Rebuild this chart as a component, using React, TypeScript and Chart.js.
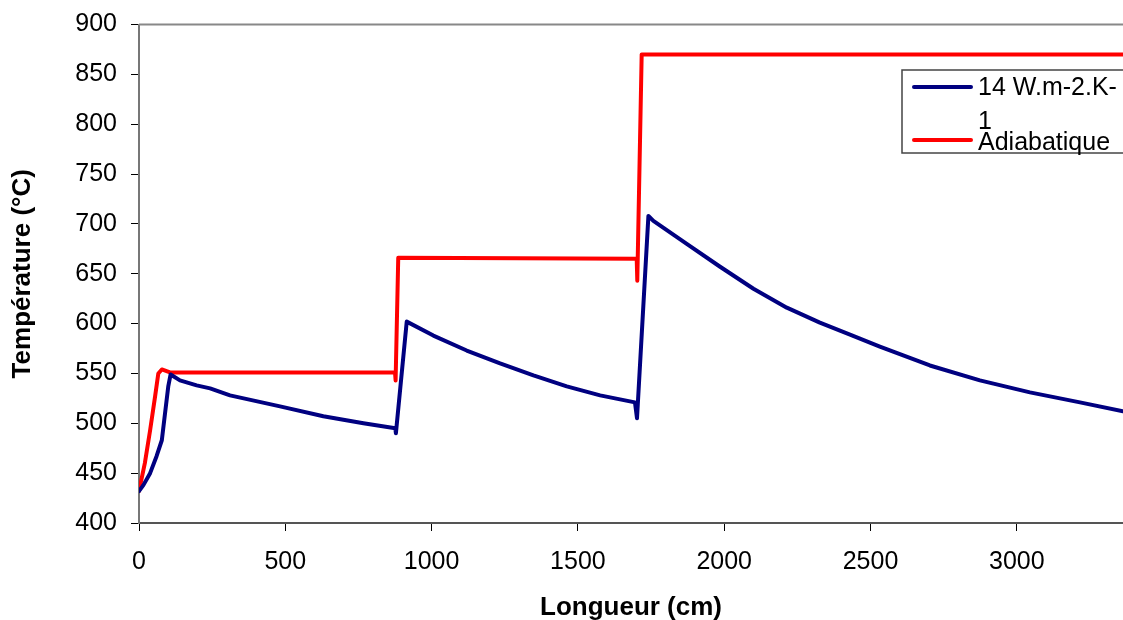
import React, { useEffect, useRef } from "react";
import { Chart, registerables } from "chart.js";

Chart.register(...registerables);

// ---- Data ----
const seriesLabels = ["14 W.m-2.K-1", "Adiabatique"];
const seriesColors = ["#000080", "#FF0000"];

const blueX = [0, 15, 38, 60, 78, 89, 100, 108, 140, 197, 243, 311, 482, 630, 767, 876, 878, 915, 1006, 1120, 1234, 1348, 1462, 1576, 1695, 1702, 1741, 1758, 1872, 1986, 2100, 2214, 2327, 2430, 2532, 2703, 2874, 3045, 3216, 3363];
const blueY = [432, 438, 450, 467, 483, 510, 537, 549, 543, 538, 535, 528, 517, 507, 500, 495, 490, 602, 588, 573, 560, 548, 537, 528, 521, 505, 708, 703, 680, 657, 635, 616, 601, 589, 577, 558, 543, 531, 521, 512];

const redX = [0, 20, 38, 55, 66, 78, 106, 875, 877, 886, 1701, 1703, 1718, 3363];
const redY = [432, 460, 493, 527, 550, 554, 551, 551, 543, 666, 665, 643, 870, 870];

const xTickValues = [0, 500, 1000, 1500, 2000, 2500, 3000];
const yTickValues = [400, 450, 500, 550, 600, 650, 700, 750, 800, 850, 900];
const xMin = 0;
const xMax = 3363;
const yMin = 400;
const yMax = 900;
const xTitle = "Longueur (cm)";
const yTitle = "Température (°C)";

const FONT = "'Liberation Sans', Arial, sans-serif";

const toPoints = (xs: number[], ys: number[]) => xs.map((x, i) => ({ x, y: ys[i] }));

const frameAndLegend = {
  id: "frameAndLegend",
  afterDraw(chart: any) {
    const { ctx, chartArea } = chart;
    ctx.save();
    // top frame line
    ctx.strokeStyle = "#888";
    ctx.lineWidth = 2;
    ctx.beginPath();
    ctx.moveTo(chartArea.left, chartArea.top);
    ctx.lineTo(chartArea.right, chartArea.top);
    ctx.stroke();

    // legend box
    const bx = 902, by = 70, bw = 260, bh = 83;
    ctx.fillStyle = "#fff";
    ctx.fillRect(bx, by, bw, bh);
    ctx.strokeStyle = "#444";
    ctx.lineWidth = 1.5;
    ctx.strokeRect(bx, by, bw, bh);

    ctx.font = `25px ${FONT}`;
    ctx.fillStyle = "#000";
    ctx.textBaseline = "alphabetic";
    ctx.textAlign = "left";
    const textX = 978;
    const maxW = 142;
    const wrap = (s: string) => {
      const lines: string[] = [];
      let cur = "";
      for (const ch of s) {
        if (cur && ctx.measureText(cur + ch).width > maxW) {
          lines.push(cur);
          cur = ch;
        } else cur += ch;
      }
      if (cur) lines.push(cur);
      return lines;
    };
    const baselines = [[95, 129], [150]];
    const lineYs = [87, 140];
    seriesLabels.forEach((lab, i) => {
      ctx.strokeStyle = seriesColors[i];
      ctx.lineWidth = 4;
      ctx.lineCap = "round";
      ctx.beginPath();
      ctx.moveTo(914, lineYs[i]);
      ctx.lineTo(971, lineYs[i]);
      ctx.stroke();
      const lines = wrap(lab);
      lines.forEach((l, j) => {
        const b = baselines[i][j] ?? baselines[i][0] + j * 34;
        ctx.fillText(l, textX, b);
      });
    });
    ctx.restore();
  },
};

export default function App() {
  const ref = useRef<HTMLCanvasElement | null>(null);

  useEffect(() => {
    if (!ref.current) return;
    const chart = new Chart(ref.current, {
      type: "scatter",
      data: {
        datasets: [
          {
            label: seriesLabels[0],
            data: toPoints(blueX, blueY),
            showLine: true,
            borderColor: seriesColors[0],
            backgroundColor: seriesColors[0],
            borderWidth: 4,
            pointRadius: 0,
            tension: 0,
            borderJoinStyle: "round",
            borderCapStyle: "round",
          },
          {
            label: seriesLabels[1],
            data: toPoints(redX, redY),
            showLine: true,
            borderColor: seriesColors[1],
            backgroundColor: seriesColors[1],
            borderWidth: 4,
            pointRadius: 0,
            tension: 0,
            borderJoinStyle: "round",
            borderCapStyle: "round",
          },
        ],
      },
      options: {
        animation: false,
        responsive: false,
        maintainAspectRatio: false,
        layout: { padding: { top: 24.5, right: 0, left: 0, bottom: 0 } },
        plugins: {
          legend: { display: false },
          tooltip: { enabled: false },
        },
        scales: {
          x: {
            type: "linear",
            min: xMin,
            max: xMax,
            afterFit: (s: any) => {
              s.height = 97;
              s.paddingRight = 0;
            },
            afterBuildTicks: (s: any) => {
              s.ticks = xTickValues.map((v) => ({ value: v }));
            },
            ticks: {
              color: "#000",
              font: { family: FONT, size: 25 },
              padding: 16,
              maxRotation: 0,
              autoSkip: false,
              callback: (v: any) => String(v),
            },
            grid: {
              drawOnChartArea: false,
              drawTicks: true,
              tickLength: 8,
              color: "#000",
              lineWidth: 1,
            },
            border: { display: true, color: "#555", width: 2 },
            title: {
              display: true,
              text: xTitle,
              color: "#000",
              font: { family: FONT, size: 26, weight: "bold", lineHeight: 1 },
              padding: { top: 0, bottom: -1 },
            },
          },
          y: {
            type: "linear",
            min: yMin,
            max: yMax,
            afterFit: (s: any) => {
              s.width = 139;
              s.paddingTop = 0;
              s.paddingBottom = 0;
            },
            afterBuildTicks: (s: any) => {
              s.ticks = yTickValues.map((v) => ({ value: v }));
            },
            ticks: {
              color: "#000",
              font: { family: FONT, size: 25 },
              padding: 14,
              autoSkip: false,
              callback: (v: any) => String(v),
            },
            grid: {
              drawOnChartArea: false,
              drawTicks: true,
              tickLength: 8,
              color: "#000",
              lineWidth: 1,
            },
            border: { display: true, color: "#777", width: 2 },
            title: {
              display: true,
              text: yTitle,
              color: "#000",
              font: { family: FONT, size: 26, weight: "bold", lineHeight: 1 },
              padding: { top: 10, bottom: 0 },
            },
          },
        },
      },
      plugins: [frameAndLegend],
    } as any);
    return () => chart.destroy();
  }, []);

  return (
    <div style={{ position: "absolute", left: 0, top: 0, width: 1123, height: 620, background: "#fff", overflow: "hidden" }}>
      <canvas ref={ref} width={1123} height={620} style={{ display: "block", width: 1123, height: 620 }} />
    </div>
  );
}
